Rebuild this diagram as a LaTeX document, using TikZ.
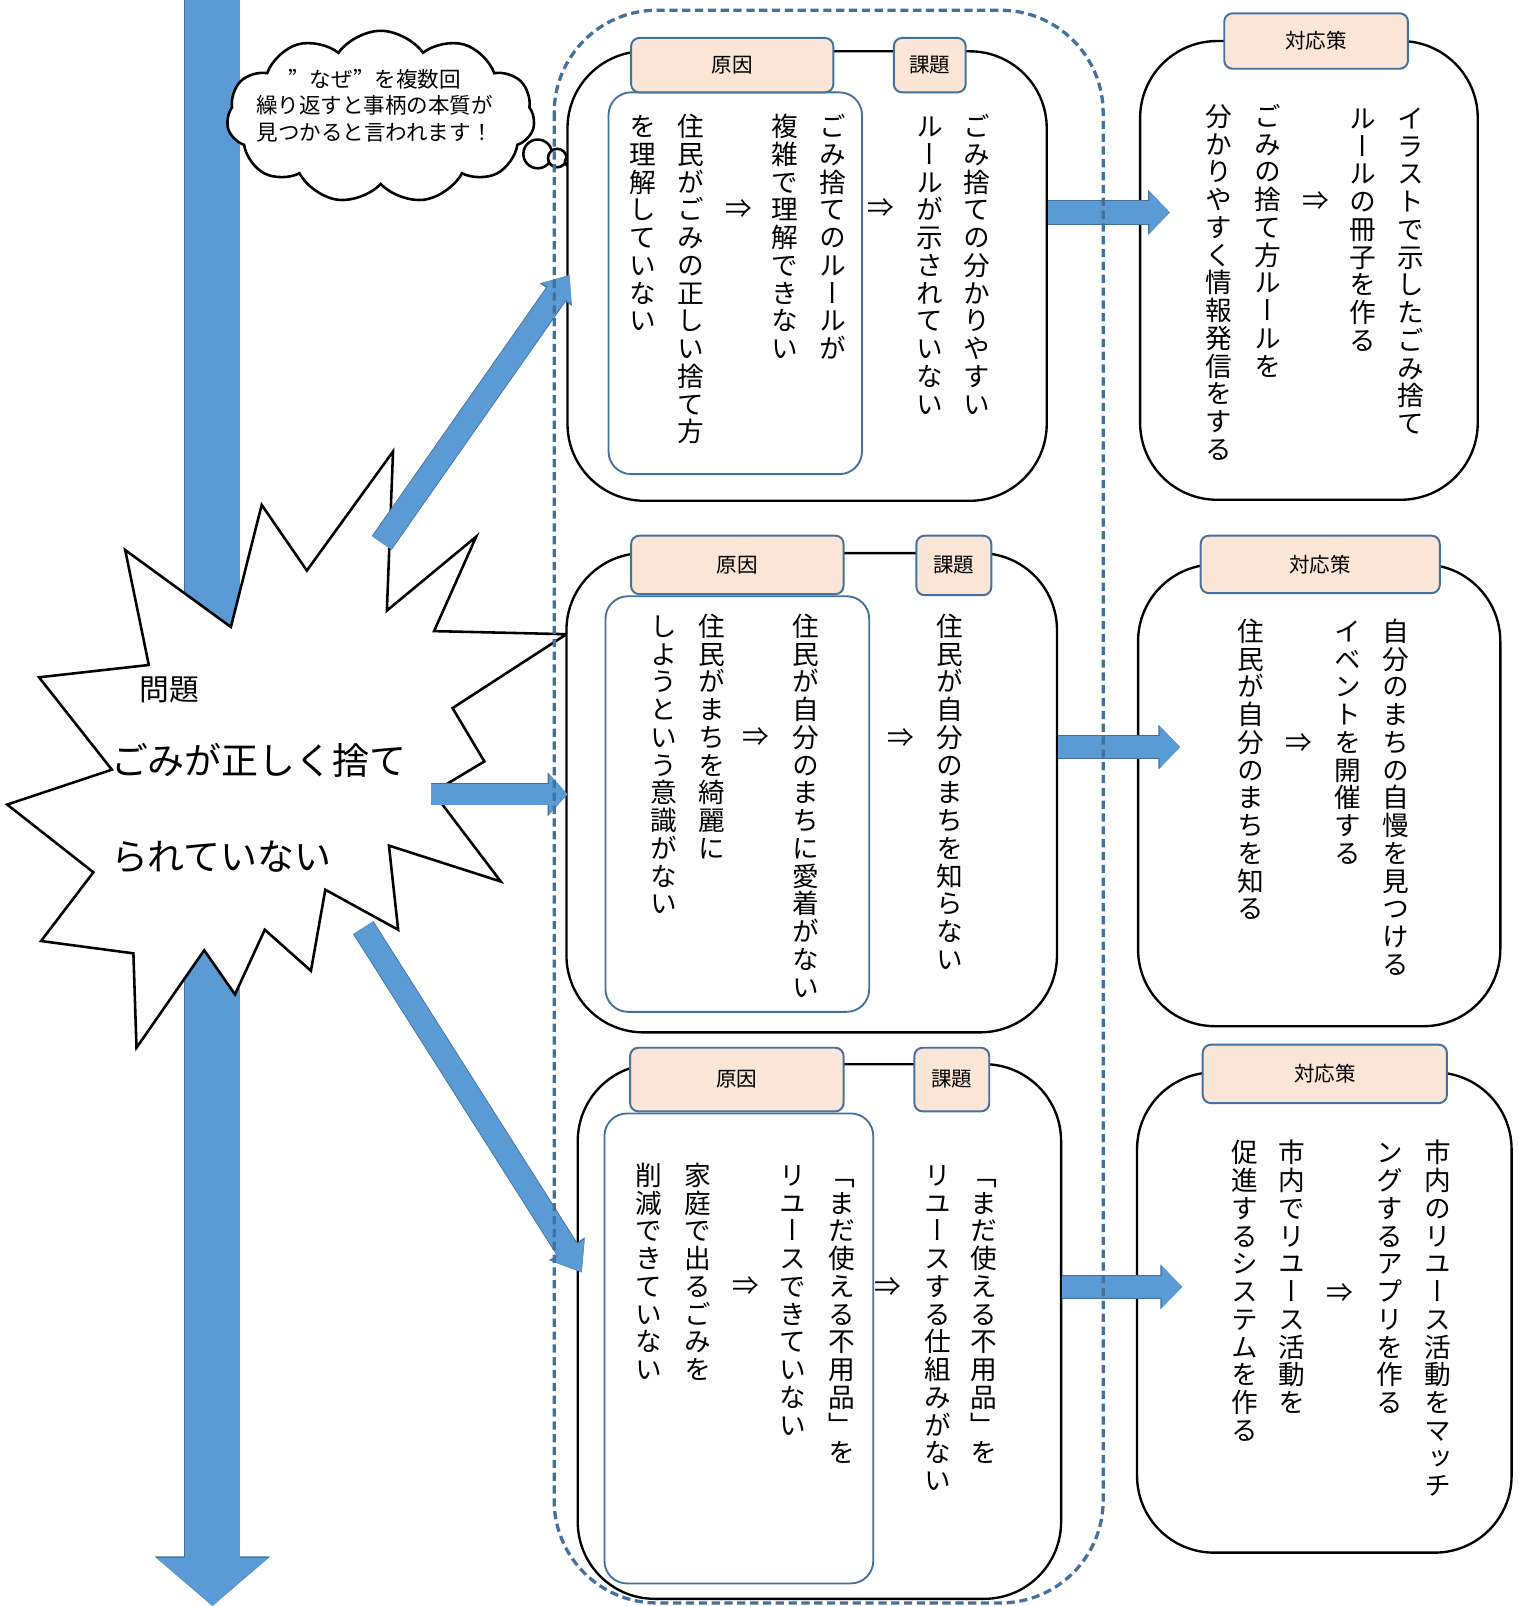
\documentclass[tikz,border=0pt]{standalone}
\usepackage{fontspec}
\newfontfamily\jp{Noto Sans CJK JP}
\newfontfamily\jpv[RawFeature=+vert]{Noto Sans CJK JP}
\newfontfamily\jpfw[RawFeature=+fwid]{Noto Sans CJK JP}
\usetikzlibrary{arrows.meta,fit,shapes.symbols}

\definecolor{arrowblue}{HTML}{5B9BD5}
\definecolor{arrowedge}{HTML}{41719C}
\definecolor{tagfill}{HTML}{FBE5D6}
\definecolor{boxblue}{HTML}{41719C}

% vertical column: one character under the other
\makeatletter
\newcommand\tate[1]{\vtop{\offinterlineskip\tate@loop#1\tate@end}}
\def\tate@end{tate@end}
\def\tate@loop#1{\ifx#1\tate@end\else\hbox to 1em{\hss\vrule height .88em depth .16em width 0pt\relax#1\hss}\expandafter\tate@loop\fi}
\makeatother

% block arrow: from, to, shaft, head width, head length
\newcommand\flow[5]{%
  \pgfmathsetmacro\flowa{#3+1.6}\pgfmathsetmacro\flowb{#4+2.6}\pgfmathsetmacro\flowc{#5+1.3}%
  \draw[arrowedge, line width=\flowa pt, -{Triangle[width=\flowb pt, length=\flowc pt]}] (#1) -- (#2);
  \draw[arrowblue, line width=#3pt, -{Triangle[width=#4pt, length=#5pt]}] (#1) -- (#2);}

\begin{document}
\begin{tikzpicture}[x=1pt, y=-1pt,
	issue box/.style={draw=black, line width=2.3pt, fill=white, rounded corners=75pt, inner sep=0pt},
	cause box/.style={draw=boxblue, line width=1.8pt, fill=white, rounded corners=22pt, inner sep=0pt},
	tag/.style={draw=boxblue, line width=1.9pt, fill=tagfill, rounded corners=8pt, inner sep=0pt},
	tagtext/.style={font=\jp\fontsize{20}{24}\selectfont, inner sep=0pt},
	col/.style={anchor=north, inner sep=0pt, font=\jpv\fontsize{26}{27}\selectfont},
	thus/.style={inner sep=0pt, font=\jp\fontsize{26}{27}\selectfont},
	]
	\useasboundingbox (0,0) rectangle (1480,1565);

	% long arrow on the left
	\coordinate (axtop) at (207,-5);
	\coordinate (axbot) at (207,1565);
	\flow{axtop}{axbot}{53}{107}{47}

	% problem
	\draw[line width=2.5pt, fill=white, line join=miter] (122,536) -- (225,611) -- (255,492) -- (299,556)
		-- (383,440) -- (377,595) -- (464,523) -- (423,615) -- (552,618) -- (441,690) -- (472,742)
		-- (422,772) -- (488,859) -- (379,824) -- (388,906) -- (317,867) -- (303,946) -- (258,906)
		-- (229,969) -- (199,926) -- (133,1021) -- (130,929) -- (40,917) -- (91,850) -- (7,784)
		-- (109,750) -- (38,660) -- (145,648) -- cycle;
	\node[font=\jp\fontsize{29}{30}\selectfont, inner sep=0pt] (probtag) at (165,672) {問題};
	\node[font=\jp\fontsize{36}{40}\selectfont, inner sep=0pt, anchor=west] (prob1) at (108,741) {ごみが正しく捨て};
	\node[font=\jp\fontsize{36}{40}\selectfont, inner sep=0pt, anchor=west] (prob2) at (108,835) {られていない};

	% thought cloud
	\node[cloud, cloud puffs=11, cloud puff arc=110, aspect=1.8, draw, line width=2.5pt, fill=white,
		minimum width=300pt, minimum height=168pt, inner sep=0pt] (why) at (371,114) {};
	\node[align=center, font=\jp\fontsize{21}{26}\selectfont, inner sep=0pt] (whytext) at (365,103)
		{{\jpfw ”}なぜ{\jpfw ”}を複数回\\繰り返すと事柄の本質が\\見つかると言われます！};
	\draw[line width=2.5pt, fill=white] (524,150) circle [radius=14pt];
	\draw[line width=2.5pt, fill=white] (543,154) circle [radius=9pt];
	\draw[line width=2.5pt, fill=white] (556,157) circle [radius=5.5pt];

	% row 1
	\node[issue box, fit={(553,50) (1020,488)}] (r1) {};
	\node[cause box, fit={(593,90) (840,462)}] (r1c) {};
	\node[tag, fit={(615,37) (812,90)}] (r1ctag) {};
	\node[tagtext] (r1ctagt) at (r1ctag) {原因};
	\node[tag, fit={(871,37) (941,90)}] (r1itag) {};
	\node[tagtext] (r1itagt) at (r1itag) {課題};
		\node[col] (r1i1) at (952,110) {\tate{ごみ捨ての分かりやすい}};
		\node[col] (r1i2) at (906,110) {\tate{ルールが示されていない}};
		\node[thus] (r1t1) at (858,203) {⇒};
		\node[col] (r1c1) at (812,110) {\tate{ごみ捨てのルールが}};
		\node[col] (r1c2) at (765,110) {\tate{複雑で理解できない}};
		\node[thus] (r1t2) at (720,204) {⇒};
		\node[col] (r1c3) at (673,110) {\tate{住民がごみの正しい捨て方}};
		\node[col] (r1c4) at (626,110) {\tate{を理解していない}};

	\node[issue box, fit={(1111,40) (1440,487)}] (s1) {};
	\node[tag, fit={(1193,13) (1372,67)}] (s1tag) {};
	\node[tagtext] (s1tagt) at (s1tag) {対応策};
		\node[col] (s1a) at (1375,102) {\tate{イラストで示したごみ捨て}};
		\node[col] (s1b) at (1328,102) {\tate{ルールの冊子を作る}};
		\node[thus] (s1t) at (1282,196) {⇒};
		\node[col] (s1c) at (1235,100) {\tate{ごみの捨て方ルールを}};
		\node[col] (s1d) at (1188,100) {\tate{分かりやすく情報発信をする}};

	% row 2
	\node[issue box, fit={(552,539) (1030,1006)}] (r2) {};
	\node[cause box, fit={(590,581) (847,986)}] (r2c) {};
	\node[tag, fit={(615,522) (822,579)}] (r2ctag) {};
	\node[tagtext] (r2ctagt) at (r2ctag) {原因};
	\node[tag, fit={(893,522) (966,580)}] (r2itag) {};
	\node[tagtext] (r2itagt) at (r2itag) {課題};
		\node[col] (r2i1) at (926,597) {\tate{住民が自分のまちを知らない}};
		\node[thus] (r2t1) at (878,719) {⇒};
		\node[col] (r2c1) at (785,597) {\tate{住民が自分のまちに愛着がない}};
		\node[thus] (r2t2) at (737,718) {⇒};
		\node[col] (r2c2) at (694,597) {\tate{住民がまちを綺麗に}};
		\node[col] (r2c3) at (647,597) {\tate{しようという意識がない}};

	\node[issue box, fit={(1109,550) (1462,1000)}] (s2) {};
	\node[tag, fit={(1170,522) (1403,578)}] (s2tag) {};
	\node[tagtext] (s2tagt) at (s2tag) {対応策};
		\node[col] (s2a) at (1360,602) {\tate{自分のまちの自慢を見つける}};
		\node[col] (s2b) at (1313,602) {\tate{イベントを開催する}};
		\node[thus] (s2t) at (1266,724) {⇒};
		\node[col] (s2c) at (1219,602) {\tate{住民が自分のまちを知る}};

	% row 3
	\node[issue box, fit={(563,1037) (1034,1558)}] (r3) {};
	\node[cause box, fit={(589,1085) (851,1543)}] (r3c) {};
	\node[tag, fit={(614,1021) (822,1083)}] (r3ctag) {};
	\node[tagtext] (r3ctagt) at (r3ctag) {原因};
	\node[tag, fit={(891,1021) (964,1083)}] (r3itag) {};
	\node[tagtext] (r3itagt) at (r3itag) {課題};
		\node[col] (r3i1) at (959,1132) {\tate{「まだ使える不用品」を}};
		\node[col] (r3i2) at (914,1132) {\tate{リユースする仕組みがない}};
		\node[thus] (r3t1) at (865,1254) {⇒};
		\node[col] (r3c1) at (820,1132) {\tate{「まだ使える不用品」を}};
		\node[col] (r3c2) at (773,1132) {\tate{リユースできていない}};
		\node[thus] (r3t2) at (727,1253) {⇒};
		\node[col] (r3c3) at (680,1132) {\tate{家庭で出るごみを}};
		\node[col] (r3c4) at (632,1132) {\tate{削減できていない}};

	\node[issue box, fit={(1108,1045) (1473,1513)}] (s3) {};
	\node[tag, fit={(1172,1018) (1410,1075)}] (s3tag) {};
	\node[tagtext] (s3tagt) at (s3tag) {対応策};
		\node[col] (s3a) at (1401,1110) {\tate{市内のリユース活動をマッチ}};
		\node[col] (s3b) at (1354,1110) {\tate{ングするアプリを作る}};
		\node[thus] (s3t) at (1306,1260) {⇒};
		\node[col] (s3c) at (1259,1110) {\tate{市内でリユース活動を}};
		\node[col] (s3d) at (1213,1110) {\tate{促進するシステムを作る}};

	% arrows
	\coordinate (d1a) at (372,529);
	\coordinate (d1b) at (555,268);
	\flow{d1a}{d1b}{22}{34}{22}
	\coordinate (d2a) at (420,774);
	\coordinate (d2b) at (553,774);
	\flow{d2a}{d2b}{20}{39}{18}
	\coordinate (d3a) at (354,904);
	\coordinate (d3b) at (567,1240);
	\flow{d3a}{d3b}{22}{37}{26}
	\coordinate (f1a) at (1021,207);
	\coordinate (f1b) at (1140,207);
	\flow{f1a}{f1b}{22}{40}{20}
	\coordinate (f2a) at (1031,728);
	\coordinate (f2b) at (1150,728);
	\flow{f2a}{f2b}{22}{40}{20}
	\coordinate (f3a) at (1035,1254);
	\coordinate (f3b) at (1152,1254);
	\flow{f3a}{f3b}{22}{40}{20}

	% dashed frame round the causes
	\draw[boxblue, line width=3.2pt, dash pattern=on 8pt off 4.5pt, rounded corners=100pt] (540,10) rectangle (1075,1562);
\end{tikzpicture}
\end{document}
